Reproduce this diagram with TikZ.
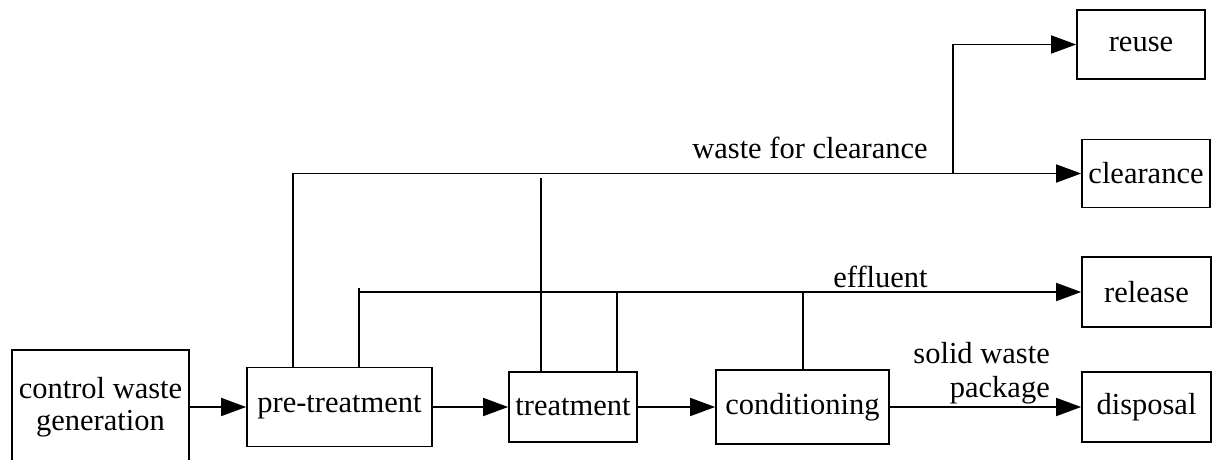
\documentclass[tikz,border=0pt]{standalone}
\usepackage{fontspec}
\setmainfont{Liberation Serif}
\usetikzlibrary{arrows.meta}
\tikzset{
  box/.style={draw=black, line width=1.7pt, inner sep=0pt, align=center, font=\fontsize{30.5}{32}\selectfont},
  lbl/.style={inner sep=0pt, font=\fontsize{30.5}{34}\selectfont},
  wire/.style={draw=black, line width=1.7pt},
  arr/.style={wire, -{Triangle[length=25pt,width=18pt]}}
}
\begin{document}
\begin{tikzpicture}[x=1pt, y=-1pt]
\useasboundingbox (0,0) rectangle (1212,460);
\clip (0,0) rectangle (1212,460);
% boxes
\node[box, minimum width=177pt, minimum height=114pt] (cwg) at (100.5,407) {control waste\\generation};
\node[box, minimum width=185pt, minimum height=79pt] (pre) at (339.5,407) {pre-treatment};
\node[box, minimum width=128pt, minimum height=70pt] (treat) at (573,407) {treatment};
\node[box, minimum width=173pt, minimum height=74pt] (cond) at (802.5,407) {conditioning};
\node[box, minimum width=129pt, minimum height=70pt] (disp) at (1146.5,407) {disposal};
\node[box, minimum width=129pt, minimum height=70pt] (rel) at (1146.5,292) {release};
\node[box, minimum width=128pt, minimum height=68pt] (clr) at (1146,173.5) {clearance};
\node[box, minimum width=128pt, minimum height=69pt] (reuse) at (1141,44.5) {reuse};
% junction coordinates
\coordinate (c1) at (293,173.5);
\coordinate (j1) at (953,173.5);
\coordinate (t1) at (541,178);
\coordinate (e0) at (359,288);
\coordinate (e1) at (617,292);
\coordinate (e2) at (803,292);
% main chain
\draw[arr] (cwg.east) -- (pre.west);
\draw[arr] (pre.east) -- (treat.west);
\draw[arr] (treat.east) -- (cond.west);
\draw[arr] (cond.east) -- (disp.west);
% clearance
\draw[arr] (pre.north -| c1) |- (clr.west);
\draw[wire] (treat.north -| t1) -- (t1);
\draw[arr] (j1) |- (reuse.west);
% effluent
\draw[wire] (pre.north -| e0) -- (e0);
\draw[arr] (e0 |- rel.west) -- (rel.west);
\draw[wire] (treat.north -| e1) -- (e1);
\draw[wire] (cond.north -| e2) -- (e2);
% labels
\node[lbl, anchor=base] (lwc) at (810,158) {waste for clearance};
\node[lbl, anchor=base] (leff) at (880.5,287) {effluent};
\node[lbl, anchor=base east, align=right] (lsw) at (1050,397) {solid waste\\package};
\end{tikzpicture}
\end{document}
